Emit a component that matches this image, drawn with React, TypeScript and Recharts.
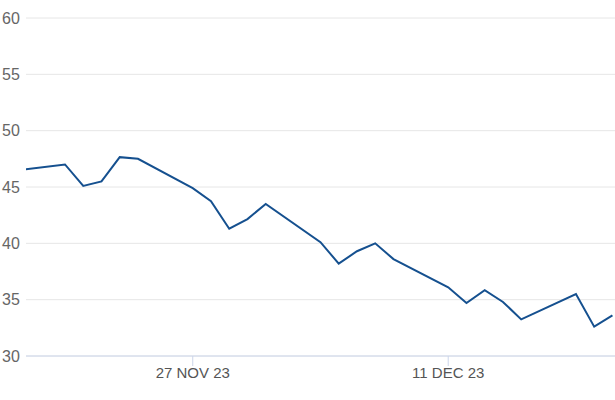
import { LineChart, Line, XAxis, YAxis, CartesianGrid } from 'recharts'

const DAY = 24 * 60 * 60 * 1000

// trading days (UTC) and closing values
const dates = [
  '2023-11-17', '2023-11-20', '2023-11-21', '2023-11-22', '2023-11-23', '2023-11-24',
  '2023-11-27', '2023-11-28', '2023-11-29', '2023-11-30', '2023-12-01',
  '2023-12-04', '2023-12-05', '2023-12-06', '2023-12-07', '2023-12-08',
  '2023-12-11', '2023-12-12', '2023-12-13', '2023-12-14', '2023-12-15',
  '2023-12-18', '2023-12-19', '2023-12-20',
]
const values = [
  46.4, 47.0, 45.1, 45.5, 47.65, 47.5,
  44.9, 43.75, 41.3, 42.15, 43.5,
  40.1, 38.2, 39.3, 40.0, 38.6,
  36.1, 34.7, 35.85, 34.8, 33.25,
  35.5, 32.6, 33.6,
]
const yTicks = [30, 35, 40, 45, 50, 55, 60]
const xTickDates = ['2023-11-27', '2023-12-11']
const months = ['JAN', 'FEB', 'MAR', 'APR', 'MAY', 'JUN', 'JUL', 'AUG', 'SEP', 'OCT', 'NOV', 'DEC']

const data = dates.map((d, i) => ({ t: Date.parse(d), v: values[i] }))
const xTicks = xTickDates.map(d => Date.parse(d))
const xDomain = [Date.parse('2023-11-17') + 0.863 * DAY, Date.parse('2023-12-20') + 0.14 * DAY]

const fmtDate = (t: number) => {
  const d = new Date(t)
  return `${d.getUTCDate()} ${months[d.getUTCMonth()]} ${String(d.getUTCFullYear()).slice(2)}`
}

const YTick = ({ y, payload }: any) => (
  <text x={2} y={y} dy={5.5} textAnchor="start" fill="#666" fontSize={16} fontFamily="'Liberation Sans', Arial, sans-serif">
    {payload.value}
  </text>
)

const XTick = ({ x, payload }: any) => (
  <text x={x} y={378} textAnchor="middle" fill="#555" fontSize={15} fontFamily="'Liberation Sans', Arial, sans-serif">
    {fmtDate(payload.value)}
  </text>
)

export default function App() {
  return (
    <div style={{ position: 'absolute', left: 0, top: 0, background: '#fff' }}>
      <LineChart width={615} height={400} data={data} margin={{ top: 18, right: 0, left: 0, bottom: 14 }}>
        <CartesianGrid vertical={false} stroke="#e6e6e6" />
        <XAxis
          dataKey="t"
          type="number"
          scale="time"
          domain={xDomain}
          allowDataOverflow
          ticks={xTicks}
          tick={<XTick />}
          tickLine={{ stroke: '#ccd6eb' }}
          tickSize={10}
          axisLine={{ stroke: '#ccd6eb' }}
          height={30}
        />
        <YAxis
          domain={[30, 60]}
          ticks={yTicks}
          width={26}
          axisLine={false}
          tickLine={false}
          tick={<YTick />}
        />
        <Line
          type="linear"
          dataKey="v"
          stroke="#15508f"
          strokeWidth={2}
          dot={false}
          isAnimationActive={false}
        />
      </LineChart>
    </div>
  )
}
